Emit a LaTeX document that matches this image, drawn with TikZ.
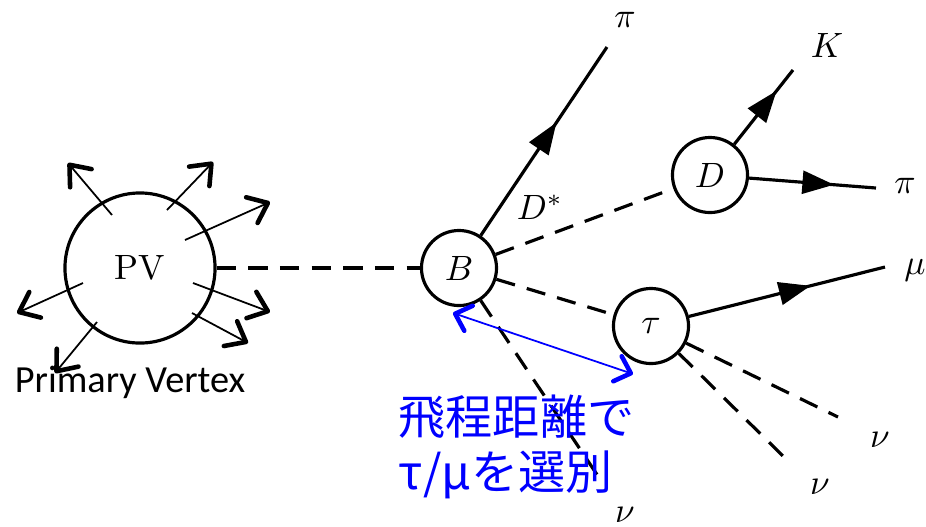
\documentclass[tikz,border=0pt]{standalone}
\usepackage{amsmath,amssymb}
\usepackage{xcolor}
\usepackage{fontspec}
\newfontfamily\labelfont{Carlito}
\newfontfamily\jpfont{Noto Sans CJK JP}
\usepackage{tikz}
\usetikzlibrary{arrows.meta, positioning, calc, decorations.markings}

\begin{document}
\begin{tikzpicture}[
    x=0.01cm, y=-0.01cm,
    every node/.style={align=center},
    vtx/.style={draw, circle, line width=0.9pt, minimum size=0.75cm, inner sep=0pt},
    track/.style={line width=0.9pt},
    neutral/.style={line width=0.9pt, dash pattern=on 5.5pt off 3.5pt},
    midarrow/.style={postaction={decorate}, decoration={markings,
        mark=at position #1 with {\arrow{Triangle[length=9pt,width=6.5pt]}}}},
    spray/.style={line width=0.5pt,
        -{Straight Barb[length=5pt,width=8pt,line width=1.3pt,round]}},
    flight/.style={blue, line width=0.5pt,
        {Straight Barb[length=4pt,width=7.5pt,line width=1.3pt,round]}-{Straight Barb[length=4pt,width=7.5pt,line width=1.3pt,round]}}
]
\useasboundingbox (0,0) rectangle (926,526);

% vertices
\node[vtx, minimum size=1.5cm] (PV) at (140,268) {PV};
\node[vtx] (B) at (459,268) {$B$};
\node[vtx] (D) at (710,175) {$D$};
\node[vtx] (tau) at (651,326) {$\tau$};

% free track ends
\coordinate (piB) at (607,47);
\coordinate (kD) at (793,70);
\coordinate (piD) at (876,188);
\coordinate (muT) at (885,267);
\coordinate (nuT1) at (838,417);
\coordinate (nuT2) at (784,457);
\coordinate (nuB) at (598,476);

% particle labels
\node (piBlab) at (625,20) {$\pi$};
\node (kDlab) at (827,45) {$K$};
\node (piDlab) at (905,186) {$\pi$};
\node (muTlab) at (915,270) {$\mu$};
\node (nuT1lab) at (880,440) {$\nu$};
\node (nuT2lab) at (820,487) {$\nu$};
\node (nuBlab) at (625,515) {$\nu$};
\node (dstar) at (540,207) {$D^*$};

% primary vertex tracks
\foreach \dx/\dy/\ex/\ey in {-28/-53/-44/-52, 27/-58/46/-48, 45/-28/85/-38,
        53/15/77/29, 52/45/56/30, -57/15/-66/30, -43/54/-42/51}
    \draw[spray] ([shift={(\dx,\dy)}]PV.center) -- ++(\ex,\ey);

\node[font=\labelfont\fontsize{10.9pt}{13pt}\selectfont] (pvlab) at (130,382) {Primary Vertex};

% decay chain
\draw[neutral] (PV) -- (B);
\draw[track, midarrow=0.6] (B) -- (piB);
\draw[neutral] (B) -- (D);
\draw[neutral] (B) -- (tau);
\draw[neutral] (B) -- (nuB);
\draw[track, midarrow=0.72] (D) -- (kD);
\draw[track, midarrow=0.67] (D) -- (piD);
\draw[track, midarrow=0.62] (tau) -- (muT);
\draw[neutral] (tau) -- (nuT1);
\draw[neutral] (tau) -- (nuT2);

% flight distance
\coordinate (fl1) at (453,313);
\coordinate (fl2) at (633,374);
\draw[flight] (fl1) -- (fl2);
\node[text=blue, align=left, anchor=north west, inner sep=0pt,
      font=\jpfont\fontsize{13.4pt}{15.6pt}\selectfont] (select) at (398,394)
    {飛程距離で\\τ/μを選別};
\end{tikzpicture}
\end{document}
